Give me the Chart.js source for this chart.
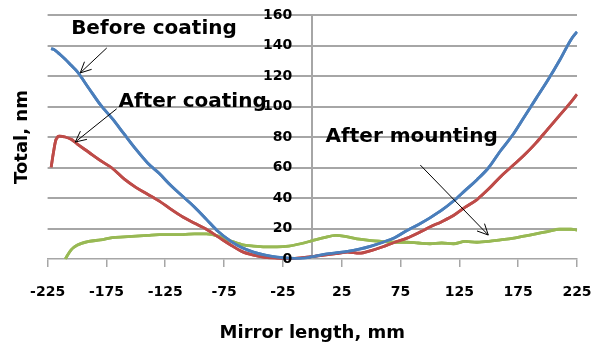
<!DOCTYPE html>
<html>
<head>
<meta charset="utf-8">
<script src="https://cdn.jsdelivr.net/npm/chart.js@4"></script>
<style>
  body { margin: 0; background: #fff; }
  #wrap { width: 594px; height: 346px; }
</style>
</head>
<body>
<div id="wrap"><canvas id="profileChart"></canvas></div>
<script>
// positions along the mirror, mm
const xMm = [-222, -220, -218, -215, -210, -205, -200,
  -190, -180, -170, -160, -150, -140, -130, -120, -110,
  -100, -90, -80, -70, -60, -50, -40, -30, -20, -10,
  0, 10, 20, 30, 40, 50, 60, 70, 80, 90,
  100, 110, 120, 130, 140, 150, 160, 170, 180, 190,
  200, 210, 220, 225];

const beforeCoating = [138, 137.5, 136.5, 134.5, 131, 127, 123,
  112, 101, 92, 82, 72, 63, 56, 48, 41,
  34, 26, 18, 12, 7.5, 4.5, 2.5, 1.3, 0.6, 0.4,
  1.5, 3, 4, 5, 6.5, 8.5, 11, 14, 18.5, 22.5,
  27, 32, 38, 45, 52, 60, 71, 81, 93, 105,
  117, 130, 144, 149];

const afterCoating = [60, 70, 78, 80.5, 80, 78.5, 75.5,
  70, 64.5, 59.5, 52.5, 47, 42.5, 38, 32.5, 27.5,
  23.5, 19.5, 14.5, 9.5, 5, 2.5, 1, 0.5, 0.3, 0.8,
  1.5, 2.5, 3.5, 4.5, 3.8, 5.5, 8, 11, 13.5, 17,
  21, 24.5, 28.5, 34, 39, 46, 54, 61, 68, 76,
  85, 94, 103, 108];

const afterMounting = [null, null, null, null, 0, 6, 9,
  11.5, 12.5, 14, 14.5, 15, 15.5, 16, 16, 16,
  16.5, 16.5, 15, 12, 9.5, 8.5, 8, 8, 8.5, 10,
  12, 14, 15.5, 14.5, 13, 12, 11.5, 11, 11, 10.5,
  10, 10.5, 10, 11.5, 11, 11.5, 12.5, 13.5, 15, 16.5,
  18, 19.5, 19.5, 19];

const xTicks = [-225, -175, -125, -75, -25, 25, 75, 125, 175, 225];

// callout text and arrow ends, in axis units
const callouts = [
  { text: 'Before coating', at: [-205, 147.5], from: [-174.7, 138.4], to: [-197.3, 122] },
  { text: 'After coating', at: [-164.7, 99.5], from: [-166.3, 98.5], to: [-201.5, 76.7] },
  { text: 'After mounting', at: [11.3, 76.7], from: [91.8, 61.6], to: [149.6, 15.7] }
];

const gridColor = '#a6a6a6';
const fontName = 'DejaVu Sans';

function series(values) {
  return xMm.map((x, i) => ({ x: x, y: values[i] }));
}

// value axis crossing at x = 0: grid, axis line, then both sets of tick labels
const centreAxis = {
  id: 'centreAxis',
  afterDatasetsDraw(chart) {
    const { ctx, chartArea, scales: { x, y } } = chart;
    const px = x.getPixelForValue(0);
    const w = chartArea.right - chartArea.left;

    ctx.save();
    ctx.globalAlpha = 1;
    ctx.globalCompositeOperation = 'source-over';
    ctx.fillStyle = gridColor;
    y.ticks.forEach(t => {
      if (t.value === 0) return;
      const py = Math.round(y.getPixelForValue(t.value));
      ctx.fillRect(chartArea.left, py - 1, w, 2);
    });
    ctx.fillRect(Math.round(px) - 1, chartArea.top, 2, chartArea.bottom - chartArea.top);
    ctx.restore();

    // put the curves back over the grid
    const metas = chart.getSortedVisibleDatasetMetas();
    for (let i = metas.length - 1; i >= 0; i--) {
      metas[i].dataset.draw(ctx, chartArea);
    }

    ctx.save();
    ctx.fillStyle = '#000';
    ctx.font = 'bold 14px "' + fontName + '"';
    ctx.textBaseline = 'middle';
    ctx.textAlign = 'right';
    y.ticks.forEach(t => ctx.fillText(t.label, px - 20, y.getPixelForValue(t.value)));
    ctx.textAlign = 'center';
    x.ticks.forEach(t => ctx.fillText(t.label, x.getPixelForValue(t.value), chartArea.bottom + 33.5));
    ctx.restore();
  }
};

const calloutPlugin = {
  id: 'callouts',
  afterDatasetsDraw(chart) {
    const { ctx, scales: { x, y } } = chart;
    ctx.save();
    ctx.fillStyle = '#000';
    ctx.strokeStyle = '#000';
    ctx.lineWidth = 1;
    ctx.font = 'bold 20px "' + fontName + '"';
    ctx.textBaseline = 'alphabetic';
    ctx.textAlign = 'left';
    callouts.forEach(c => {
      ctx.fillText(c.text, x.getPixelForValue(c.at[0]), y.getPixelForValue(c.at[1]));
      const x1 = x.getPixelForValue(c.from[0]), y1 = y.getPixelForValue(c.from[1]);
      const x2 = x.getPixelForValue(c.to[0]), y2 = y.getPixelForValue(c.to[1]);
      const a = Math.atan2(y2 - y1, x2 - x1);
      ctx.beginPath();
      ctx.moveTo(x1, y1);
      ctx.lineTo(x2, y2);
      ctx.moveTo(x2 - 12 * Math.cos(a - 0.45), y2 - 12 * Math.sin(a - 0.45));
      ctx.lineTo(x2, y2);
      ctx.lineTo(x2 - 12 * Math.cos(a + 0.45), y2 - 12 * Math.sin(a + 0.45));
      ctx.stroke();
    });
    ctx.restore();
  }
};

const line = (label, values, color) => ({
  label: label,
  data: series(values),
  borderColor: color,
  borderWidth: 2.8,
  pointRadius: 0,
  cubicInterpolationMode: 'monotone',
  fill: false
});

new Chart(document.getElementById('profileChart'), {
  type: 'line',
  data: {
    datasets: [
      line('Before coating', beforeCoating, '#4a7ebb'),
      line('After coating', afterCoating, '#be4b48'),
      line('After mounting', afterMounting, '#98b954')
    ]
  },
  options: {
    responsive: true,
    maintainAspectRatio: false,
    animation: false,
    devicePixelRatio: 1,
    layout: { padding: { left: 5, right: 17, top: 15, bottom: 0 } },
    plugins: { legend: { display: false }, tooltip: { enabled: false } },
    scales: {
      x: {
        type: 'linear',
        min: -225,
        max: 225,
        afterBuildTicks: s => { s.ticks = xTicks.map(v => ({ value: v })); },
        ticks: { display: false },
        grid: { drawOnChartArea: false, color: gridColor, lineWidth: 1.5, tickLength: 8 },
        border: { color: gridColor, width: 1.5 },
        title: {
          display: true, text: 'Mirror length, mm', color: '#000',
          font: { family: fontName, size: 18, weight: 'bold' }, padding: { top: 55.4, bottom: 2 }
        }
      },
      y: {
        position: 'left',
        min: 0,
        max: 160,
        ticks: { display: false, stepSize: 20 },
        grid: { display: false },
        border: { display: false },
        title: {
          display: true, text: 'Total, nm', color: '#000',
          font: { family: fontName, size: 18, weight: 'bold' }, padding: { top: 7, bottom: 6 }
        }
      }
    }
  },
  plugins: [centreAxis, calloutPlugin]
});
</script>
</body>
</html>
